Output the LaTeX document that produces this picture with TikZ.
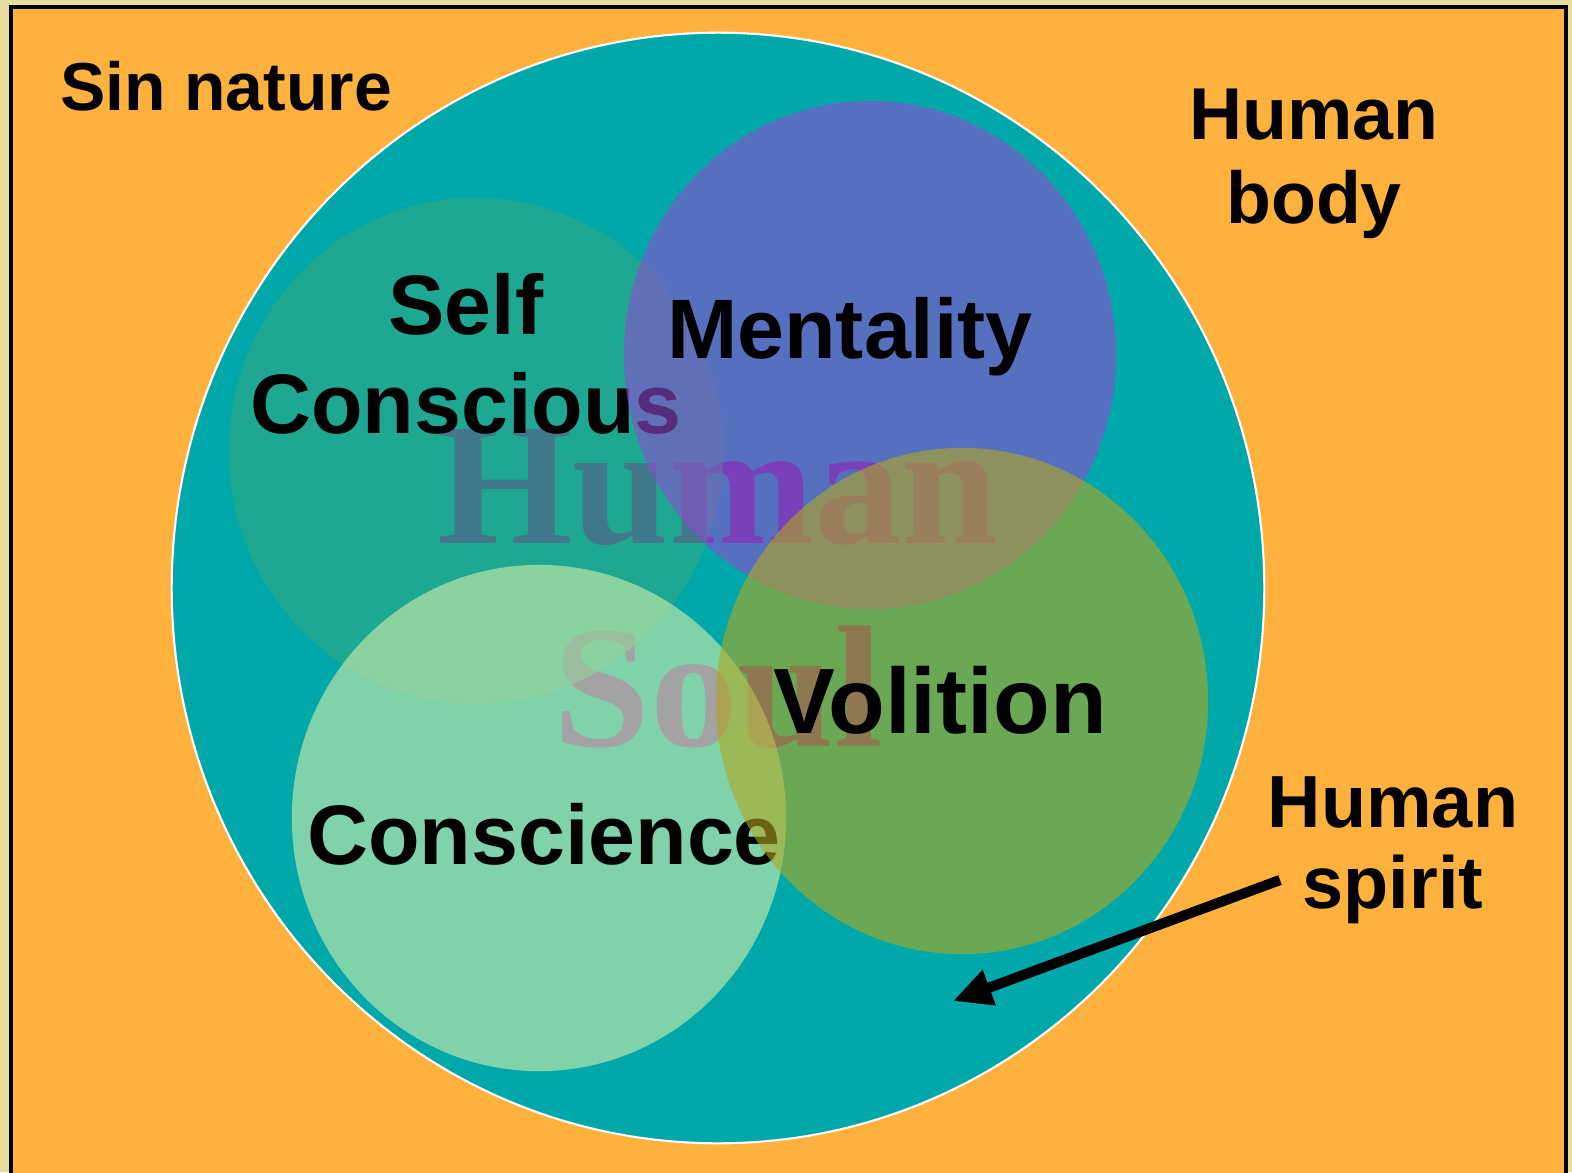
\documentclass[tikz,border=0pt]{standalone}
\usepackage{fontspec}
\setmainfont{Liberation Sans}
\newfontfamily\soulfont{Liberation Serif}
\usetikzlibrary{arrows.meta}

\definecolor{parch}{HTML}{E8DB9E}
\definecolor{bodyorange}{HTML}{FEB13D}
\definecolor{spiritteal}{HTML}{00A8AA}
\definecolor{selfcol}{HTML}{32A882}
\definecolor{mentcol}{HTML}{8F4BCE}
\definecolor{conscol}{HTML}{D5EEAB}
\definecolor{volcol}{HTML}{B1A81E}
\definecolor{soulcol}{HTML}{5A309B}

\begin{document}
\begin{tikzpicture}
  [x=0.01cm,y=-0.01cm,
   lbl/.style={font=\bfseries\fontsize{24pt}{28pt}\selectfont,align=center,inner sep=0pt},
   part/.style={fill opacity=0.6}]
  \useasboundingbox (0,0) rectangle (1572,1172);
  \fill[parch] (0,0) rectangle (1572,1172);
  \fill[bodyorange] (11,7) rectangle (1566,1190);
  \draw[line width=1.2pt] (11,1190) -- (11,7) -- (1566,7) -- (1566,1190);

  % human spirit
  \fill[spiritteal,draw=white,line width=0.6pt] (718,588) ellipse [x radius=5.46cm, y radius=5.55cm];

  % soul text sits under the parts
  \node[text=soulcol,font=\soulfont\bfseries\fontsize{49.5pt}{57.8pt}\selectfont,align=center,inner sep=0pt] (soul) at (718,589) {Human\\Soul};

  % the four parts
  \fill[selfcol,part] (476,451) ellipse [x radius=2.47cm, y radius=2.53cm];
  \node[lbl] (self) at (466,354) {Self\\Conscious};
  \fill[mentcol,part] (870,355) ellipse [x radius=2.46cm, y radius=2.54cm];
  \node[lbl,anchor=base] (ment) at (850,358) {Mentality};
  \fill[conscol,part] (539,818) ellipse [x radius=2.47cm, y radius=2.53cm];
  \node[lbl,anchor=base] (cons) at (544,864) {Conscience};
  \fill[volcol,part] (962,701) ellipse [x radius=2.46cm, y radius=2.53cm];
  \node[lbl,anchor=base,font=\bfseries\fontsize{26.4pt}{30pt}\selectfont] (vol) at (940,733) {Volition};

  % outer labels
  \node[lbl,anchor=base,font=\bfseries\fontsize{19.3pt}{23pt}\selectfont] (sin) at (226,110) {Sin nature};
  \node[lbl,font=\bfseries\fontsize{20.9pt}{24pt}\selectfont] (body) at (1314,164) {Human\\body};
  \node[lbl,font=\bfseries\fontsize{21pt}{23pt}\selectfont] (spirit) at (1393,850) {Human\\spirit};

  \coordinate (sp) at (1280,880);
  \coordinate (tip) at (953,1001);
  \draw[line width=2.9pt,-{Triangle[length=11pt,width=10pt]}] (sp) -- (tip);
\end{tikzpicture}
\end{document}
